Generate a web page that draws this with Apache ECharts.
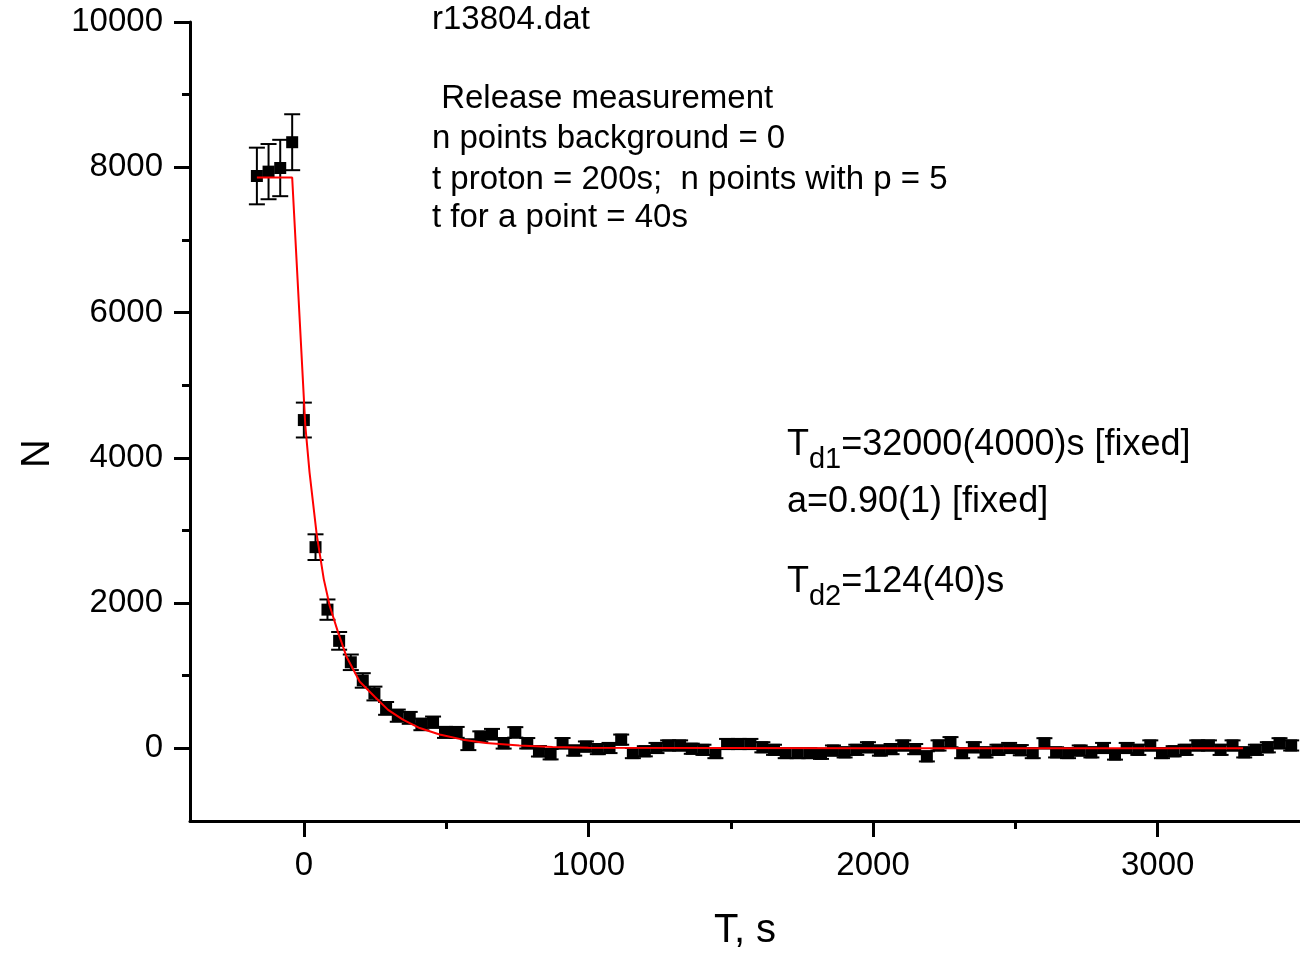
<!DOCTYPE html>
<html>
<head>
<meta charset="utf-8">
<script src="https://cdn.jsdelivr.net/npm/echarts@6/dist/echarts.min.js"></script>
<style>
html,body{margin:0;padding:0;background:#fff;}
#chart{width:1300px;height:956px;}
</style>
</head>
<body>
<div id="chart"></div>
<script>
// ---- data ----
var times = [-165,-124,-83,-41,0,41,83,124,165,207,248,289,330,372,413,454,496,537,578,620,661,702,743,785,826,867,909,
  950,991,1033,1074,1115,1156,1198,1239,1280,1322,1363,1404,1446,1487,1528,1569,1611,1652,1693,1735,1776,
  1817,1859,1900,1941,1982,2024,2065,2106,2148,2189,2230,2272,2313,2354,2395,2437,2478,2519,2561,2602,
  2643,2685,2726,2767,2808,2850,2891,2932,2974,3015,3056,3098,3139,3180,3221,3263,3304,3345,3387,3428,3469];
var counts = [7880,7940,7990,8345,4520,2770,1910,1480,1185,935,755,550,450,420,330,360,220,220,50,160,195,70,220,70,-40,-80,70,
  -30,25,-10,5,120,-65,-40,5,40,40,-5,-20,-65,60,60,60,15,-20,-65,-65,-65,
  -75,-30,-55,-20,15,-30,-10,40,-10,-110,40,85,-65,15,-55,-20,5,-25,-65,70,
  -55,-65,-30,-55,5,-85,5,-20,40,-65,-40,-20,40,40,-20,40,-55,-20,15,70,40];
var errors = [390,380,388,385,240,177,140,122,107,100,95,88,84,82,80,78,76,75,74,74,73,73,72,72,72,72,72,
  70,70,70,70,70,70,70,70,70,70,70,70,70,70,70,70,70,70,70,70,70,
  70,70,70,70,70,70,70,70,70,70,70,70,70,70,70,70,70,70,70,70,
  70,70,70,70,70,70,70,70,70,70,70,70,70,70,70,70,70,70,70,70,70];
var fitT = [-165,-41,5,20,45,70,91,120,150,196,249,296,348,407,477,559,640,757,874,1000,1500,2000,2500,3300];
var fitN = [7860,7860,4450,3800,2950,2330,1960,1600,1260,920,710,530,395,280,190,120,75,40,20,10,5,3,2,0];
var xMajor = [0,1000,2000,3000];
var xMinor = [500,1500,2500];
var yMajor = [0,2000,4000,6000,8000,10000];
var yMinor = [1000,3000,5000,7000,9000];
var infoLines = ['r13804.dat',' Release measurement','n points background = 0','t proton = 200s;  n points with p = 5','t for a point = 40s'];

// ---- build series data ----
var pts = times.map(function(t,i){return [t,counts[i]];});
var bars = times.map(function(t,i){return [t,counts[i]-errors[i],counts[i]+errors[i]];});
var fit = fitT.map(function(t,i){return [t,fitN[i]];});

var FONT = '"Liberation Sans", Arial, sans-serif';
var chart = echarts.init(document.getElementById('chart'), null, {renderer:'canvas'});
var plain = function(v){ return String(v); };

var option = {
  animation:false,
  backgroundColor:'#fff',
  grid:{left:190, top:22, width:1112.6, height:808.5, containLabel:false},
  xAxis:[{
    type:'value', min:-400, max:3500, position:'bottom',
    axisLine:{onZero:false, lineStyle:{color:'#000', width:3}},
    axisTick:{customValues:xMajor, length:16, lineStyle:{color:'#000', width:3}},
    axisLabel:{customValues:xMajor, formatter:plain, color:'#000', fontSize:33, fontFamily:FONT, margin:28},
    splitLine:{show:false},
    name:'T, s', nameLocation:'middle', nameGap:90,
    nameTextStyle:{color:'#000', fontSize:40, fontFamily:FONT}
  },{
    type:'value', min:-400, max:3500, position:'bottom',
    axisLine:{show:false, onZero:false},
    axisTick:{customValues:xMinor, length:8, lineStyle:{color:'#000', width:3}},
    axisLabel:{show:false}, splitLine:{show:false}
  }],
  yAxis:[{
    type:'value', min:-1000, max:10000, position:'left',
    axisLine:{onZero:false, lineStyle:{color:'#000', width:3}},
    axisTick:{customValues:yMajor, length:16, lineStyle:{color:'#000', width:3}},
    axisLabel:{customValues:yMajor, formatter:plain, color:'#000', fontSize:33, fontFamily:FONT, margin:27},
    splitLine:{show:false},
    name:'N', nameLocation:'middle', nameGap:132,
    nameTextStyle:{color:'#000', fontSize:40, fontFamily:FONT, padding:[0,64,0,0]}
  },{
    type:'value', min:-1000, max:10000, position:'left',
    axisLine:{show:false, onZero:false},
    axisTick:{customValues:yMinor, length:8, lineStyle:{color:'#000', width:3}},
    axisLabel:{show:false}, splitLine:{show:false}
  }],
  series:[{
    type:'custom', xAxisIndex:0, yAxisIndex:0, data:bars, z:2,
    renderItem:function(params, api){
      var x = api.value(0);
      var lo = api.coord([x, api.value(1)]);
      var hi = api.coord([x, api.value(2)]);
      var hw = 8;
      var st = {stroke:'#000', lineWidth:2};
      return {type:'group', children:[
        {type:'line', shape:{x1:hi[0], y1:hi[1], x2:lo[0], y2:lo[1]}, style:st},
        {type:'line', shape:{x1:hi[0]-hw, y1:hi[1], x2:hi[0]+hw, y2:hi[1]}, style:st},
        {type:'line', shape:{x1:lo[0]-hw, y1:lo[1], x2:lo[0]+hw, y2:lo[1]}, style:st}
      ]};
    }
  },{
    type:'scatter', xAxisIndex:0, yAxisIndex:0, data:pts, symbol:'rect', symbolSize:12,
    itemStyle:{color:'#000', opacity:1}, z:3
  },{
    type:'line', xAxisIndex:0, yAxisIndex:0, data:fit, showSymbol:false, symbol:'none', smooth:false,
    lineStyle:{color:'#ff0000', width:2}, z:4
  }],
  graphic:[]
};

var infoY = [20,99,139,180,218];
infoLines.forEach(function(s,i){
  option.graphic.push({type:'text', left:432, top:infoY[i]-17, style:{text:s, fill:'#000', font:'33px '+FONT}});
});
var richStyle = {
  m:{fontSize:36, fontFamily:FONT, color:'#000', lineHeight:40, verticalAlign:'top'},
  s:{fontSize:29, fontFamily:FONT, color:'#000', lineHeight:32, verticalAlign:'top', padding:[18,0,0,0]}
};
var fitLines = [
  {text:'{m|T}{s|d1}{m|=32000(4000)s [fixed]}', y:447},
  {text:'{m|a=0.90(1) [fixed]}', y:504},
  {text:'{m|T}{s|d2}{m|=124(40)s}', y:584}
];
fitLines.forEach(function(l){
  option.graphic.push({type:'text', left:787, top:l.y-20, style:{text:l.text, rich:richStyle, fill:'#000', font:'36px '+FONT}});
});

chart.setOption(option);
</script>
</body>
</html>
